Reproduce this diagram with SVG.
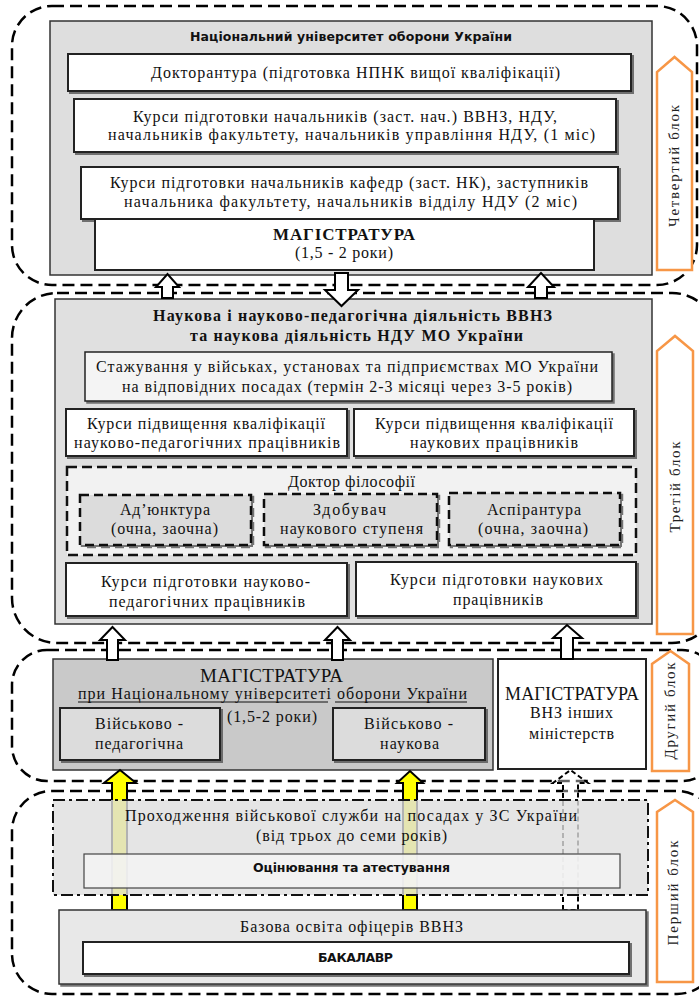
<svg xmlns="http://www.w3.org/2000/svg" width="699" height="997" viewBox="0 0 699 997">
<defs>
<style>
.blk{fill:none;stroke:#000;stroke-width:2.5;stroke-dasharray:12 6}
.gray{fill:#dedede;stroke:#333;stroke-width:1.5}
.box{fill:#fff;stroke:#222;stroke-width:2;filter:url(#sh)}
.lbox{fill:#f4f4f4;stroke:#222;stroke-width:1.5;filter:url(#sh)}
.dbox{fill:#dcdcdc;stroke:#111;stroke-width:2.5;stroke-dasharray:9 5;filter:url(#sh)}
.t{font-family:"Liberation Serif","Times New Roman",serif;font-size:16px;fill:#111}
.tb{font-family:"Liberation Serif","Times New Roman",serif;font-size:16px;font-weight:bold;fill:#111}
.s{font-family:"DejaVu Sans","Liberation Sans",sans-serif;font-size:12.5px;font-weight:bold;fill:#111}
.or{fill:#fff;stroke:#f79646;stroke-width:2.5}
.rl{font-family:"Liberation Serif","Times New Roman",serif;font-size:15px;fill:#222;text-anchor:middle}
.ha{fill:#fff;stroke:#000;stroke-width:2}
.ya{fill:#ffff00;stroke:#000;stroke-width:2}
</style>
<filter id="sh" x="-5%" y="-10%" width="115%" height="130%">
<feDropShadow dx="2" dy="2" stdDeviation="0.6" flood-color="#555" flood-opacity="0.8"/>
</filter>
</defs>
<rect width="699" height="997" fill="#fff"/>

<g id="block4">
<rect class="blk" x="12" y="6" width="685" height="279" rx="40"/>
<rect class="gray" x="50" y="21" width="602" height="254"/>
<path class="or" d="M657,270 L657,72 L674.5,57 L692,72 L692,270 Z"/>
<text class="rl" transform="translate(679,166) rotate(-90)" textLength="122">Четвертий блок</text>
</g>
<g id="block3">
<rect class="blk" x="12" y="293" width="705" height="350" rx="45"/>
<rect class="gray" x="55" y="299" width="597" height="325" style="fill:#e0e0e0"/>
<path class="or" d="M657,634 L657,351 L675,336 L693,351 L693,634 Z"/>
<text class="rl" transform="translate(680,487) rotate(-90)" textLength="91">Третій блок</text>
</g>
<g id="block2">
<rect class="blk" x="12" y="650" width="705" height="131" rx="35"/>
<rect class="gray" x="53" y="659" width="440" height="111" style="fill:#c9c9c9"/>
<path class="or" d="M652,771 L652,664 L670.5,651 L689,664 L689,771 Z"/>
<text class="rl" transform="translate(675,711) rotate(-90)" textLength="97">Другий блок</text>
</g>
<g id="block1">
<rect class="blk" x="12" y="791" width="705" height="203" rx="40"/>
<path class="or" d="M657,982 L657,812 L675,800 L693,812 L693,982 Z"/>
<text class="rl" transform="translate(678,893) rotate(-90)" textLength="105">Перший блок</text>
</g>

<g id="nuou-title"><text class="s" x="190" y="41" textLength="322">Національний університет оборони України</text></g>
<g id="doktorantura">
<rect class="box" x="68" y="54" width="563" height="37"/>
<text class="t" x="151" y="78" textLength="409">Докторантура  (підготовка НПНК вищої кваліфікації)</text>
</g>
<g id="kursy-vvnz">
<rect class="box" x="74" y="99" width="542" height="53"/>
<text class="t" x="133" y="122" textLength="424">Курси підготовки начальників (заст. нач.) ВВНЗ, НДУ,</text>
<text class="t" x="108" y="140" textLength="487">начальників факультету,  начальників управління НДУ,  (1 міс)</text>
</g>
<g id="kursy-kafedr">
<rect class="box" x="81" y="167" width="537" height="52"/>
<text class="t" x="110" y="188" textLength="478">Курси підготовки  начальників кафедр  (заст. НК), заступників</text>
<text class="t" x="124" y="207" textLength="453">начальника факультету,  начальників відділу  НДУ    (2 міс)</text>
</g>
<g id="magistratura-top">
<rect x="95" y="219" width="499" height="51" fill="#fff" stroke="#222" stroke-width="2"/>
<text class="tb" x="273" y="240" style="font-size:17px" textLength="142">МАГІСТРАТУРА</text>
<text class="t" x="295" y="258" textLength="98">(1,5 - 2 роки)</text>
</g>

<g id="block3-title">
<text class="tb" x="153" y="321" textLength="399">Наукова і науково-педагогічна діяльність ВВНЗ</text>
<text class="tb" x="190" y="341" textLength="333">та наукова діяльність  НДУ МО України</text>
</g>
<g id="stazhuvannia">
<rect class="lbox" x="85" y="352" width="527" height="49"/>
<text class="t" x="96" y="372" textLength="502">Стажування у військах,  установах та підприємствах МО України</text>
<text class="t" x="122" y="392" textLength="450">на відповідних посадах (термін 2-3 місяці  через 3-5 років)</text>
</g>
<g id="kpk-npp">
<rect class="box" x="66" y="409" width="281" height="47"/>
<text class="t" x="87" y="429" textLength="238">Курси підвищення кваліфікації</text>
<text class="t" x="74" y="448" textLength="266">науково-педагогічних  працівників</text>
</g>
<g id="kpk-np">
<rect class="box" x="354" y="409" width="280" height="47"/>
<text class="t" x="375" y="429" textLength="238">Курси підвищення кваліфікації</text>
<text class="t" x="410" y="448" textLength="168">наукових  працівників</text>
</g>
<g id="doktor-filosofii">
<rect x="67" y="467" width="569" height="88" fill="#f2f2f2" stroke="#111" stroke-width="2.5" stroke-dasharray="10 5"/>
<text class="t" x="288" y="487" textLength="127">Доктор філософії</text>
</g>
<g id="adiunktura">
<rect class="dbox" x="80" y="495" width="171" height="50"/>
<text class="t" x="120" y="515" textLength="90">Ад’юнктура</text>
<text class="t" x="111" y="534" textLength="107">(очна, заочна)</text>
</g>
<g id="zdobuvach">
<rect class="dbox" x="264" y="494" width="173" height="51"/>
<text class="t" x="313" y="515" textLength="73">Здобувач</text>
<text class="t" x="280" y="534" textLength="143">наукового  ступеня</text>
</g>
<g id="aspirantura">
<rect class="dbox" x="449" y="493" width="171" height="52"/>
<text class="t" x="487" y="515" textLength="94">Аспірантура</text>
<text class="t" x="478" y="534" textLength="110">(очна, заочна)</text>
</g>
<g id="kp-npp">
<rect class="box" x="66" y="563" width="281" height="53"/>
<text class="t" x="101" y="587" textLength="209">Курси підготовки науково-</text>
<text class="t" x="109" y="607" textLength="196">педагогічних  працівників</text>
</g>
<g id="kp-np">
<rect class="box" x="356" y="562" width="280" height="54"/>
<text class="t" x="390" y="585" textLength="213">Курси підготовки  наукових</text>
<text class="t" x="453" y="605" textLength="90">працівників</text>
</g>

<g id="magistratura-nuou">
<text class="t" x="200" y="682" style="font-size:19px" textLength="143">МАГІСТРАТУРА</text>
<text class="t" x="78" y="699" textLength="389">при Національному університеті  оборони України</text>
<line x1="78" y1="702" x2="328" y2="702" stroke="#111" stroke-width="1"/>
<line x1="335" y1="702" x2="467" y2="702" stroke="#111" stroke-width="1"/>
<text class="t" x="227" y="722" textLength="90">(1,5-2 роки)</text>
</g>
<g id="vp">
<rect x="60" y="708" width="160" height="52" fill="#dcdcdc" stroke="#222" stroke-width="2" filter="url(#sh)"/>
<text class="t" x="95" y="729" textLength="88">Військово  -</text>
<text class="t" x="95" y="749" textLength="88">педагогічна</text>
</g>
<g id="vn">
<rect x="333" y="708" width="152" height="52" fill="#dcdcdc" stroke="#222" stroke-width="2" filter="url(#sh)"/>
<text class="t" x="364" y="729" textLength="89">Військово  -</text>
<text class="t" x="380" y="749" textLength="59">наукова</text>
</g>
<g id="magistratura-inshi">
<rect x="498" y="659" width="148" height="110" fill="#fff" stroke="#222" stroke-width="2"/>
<text class="t" x="505" y="700" style="font-size:18px" textLength="134">МАГІСТРАТУРА</text>
<text class="t" x="530" y="718" textLength="83">ВНЗ інших</text>
<text class="t" x="529" y="739" textLength="85">міністерств</text>
</g>

<g id="connectors">
<path class="ha" d="M162,298 L162,287 L156,287 L167.5,274 L179,287 L173,287 L173,298 Z"/>
<path class="ha" d="M335,273 L335,290 L325,290 L341.5,306 L358,290 L348,290 L348,273 Z"/>
<path class="ha" d="M535,298 L535,287 L528,287 L541,273 L554,287 L547,287 L547,298 Z"/>
<path class="ha" d="M107,660 L107,640 L100,640 L112.5,627 L125,640 L118,640 L118,660 Z"/>
<path class="ha" d="M332,660 L332,640 L325,640 L337.5,627 L350,640 L343,640 L343,660 Z"/>
<path class="ha" d="M561,659 L561,638 L553,638 L567,625 L582,638 L573,638 L573,659 Z"/>
<path class="ya" d="M112,910 L112,783 L104,783 L120,770 L136,783 L127,783 L127,910 Z"/>
<path class="ya" d="M403,910 L403,783 L397,783 L410,771 L423,783 L417,783 L417,910 Z"/>
<path d="M563,910 L563,783 L553,783 L570.5,770 L588,783 L578,783 L578,910 Z" fill="#fff" fill-opacity="0.4" stroke="#000" stroke-width="2" stroke-dasharray="5 3"/>
</g>

<g id="sluzhba">
<rect x="53" y="800" width="595" height="95" fill="#dedede" fill-opacity="0.8" stroke="#111" stroke-width="2" stroke-dasharray="12 4 3 4"/>
<text class="t" x="125" y="821" textLength="452">Проходження військової служби на посадах у ЗС України</text>
<text class="t" x="256" y="841" textLength="191">(від трьох до семи років)</text>
</g>
<g id="otsiniuvannia">
<rect x="84" y="854" width="536" height="34" fill="#f4f4f4" fill-opacity="0.85" stroke="#444" stroke-width="1.2"/>
<text class="s" x="253" y="872" textLength="197">Оцінювання та атестування</text>
</g>
<g id="bazova">
<rect x="59" y="910" width="587" height="74" fill="#e8e8e8" stroke="#333" stroke-width="1.5" filter="url(#sh)"/>
<text class="t" x="240" y="932" textLength="223">Базова освіта офіцерів ВВНЗ</text>
</g>
<g id="bakalavr">
<rect class="box" x="83" y="942" width="546" height="32"/>
<text class="s" x="318" y="962" textLength="75">БАКАЛАВР</text>
</g>
</svg>
